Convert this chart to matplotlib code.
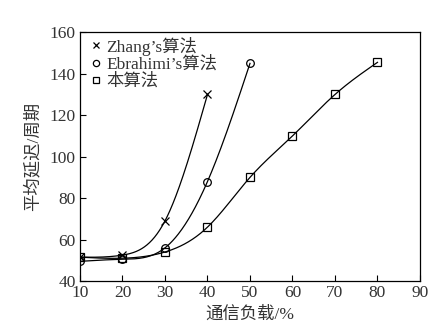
import numpy as np
import matplotlib
matplotlib.use("Agg")
import matplotlib.pyplot as plt
from matplotlib.lines import Line2D

plt.rcParams['font.family'] = ['Liberation Serif', 'Noto Sans CJK SC']

# Average delay (cycles) versus traffic load (%)
load_zhang = [10, 20, 30, 40]
delay_zhang = [51.5, 52.5, 69, 130]

load_ebrahimi = [10, 20, 30, 40, 50]
delay_ebrahimi = [49.5, 50.5, 56, 88, 145]

load_ours = [10, 20, 30, 40, 50, 60, 70, 80]
delay_ours = [51.5, 51, 54, 66, 90, 110, 130, 145.5]

series_labels = ["Zhang\u2019s算法", "Ebrahimi\u2019s算法", "本算法"]
x_ticks = [10, 20, 30, 40, 50, 60, 70, 80, 90]
y_ticks = [40, 60, 80, 100, 120, 140, 160]


def natural_spline(x, y, n=300):
    """Natural cubic spline curve through the given points."""
    x = np.asarray(x, float)
    y = np.asarray(y, float)
    k = len(x)
    h = np.diff(x)
    A = np.zeros((k, k))
    b = np.zeros(k)
    A[0, 0] = A[-1, -1] = 1.0
    for i in range(1, k - 1):
        A[i, i - 1] = h[i - 1]
        A[i, i] = 2 * (h[i - 1] + h[i])
        A[i, i + 1] = h[i]
        b[i] = 6 * ((y[i + 1] - y[i]) / h[i] - (y[i] - y[i - 1]) / h[i - 1])
    M = np.linalg.solve(A, b)
    xs = np.linspace(x[0], x[-1], n)
    idx = np.clip(np.searchsorted(x, xs) - 1, 0, k - 2)
    hi = h[idx]
    a = x[idx + 1] - xs
    c = xs - x[idx]
    ys = (M[idx] * a**3 / (6 * hi) + M[idx + 1] * c**3 / (6 * hi)
          + (y[idx] / hi - M[idx] * hi / 6) * a
          + (y[idx + 1] / hi - M[idx + 1] * hi / 6) * c)
    return xs, ys


fig = plt.figure(figsize=(4.34, 3.31), dpi=100)
ax = fig.add_axes([0.1843, 0.151, 0.7834, 0.7514])

text_color = '#333333'
line_kw = dict(color='black', lw=0.9)
mk_kw = dict(linestyle='none', color='black', markerfacecolor='none', markeredgewidth=0.9)

for lx, ly, mk in [(load_zhang, delay_zhang, 'x'),
                   (load_ebrahimi, delay_ebrahimi, 'o'),
                   (load_ours, delay_ours, 's')]:
    xs, ys = natural_spline(lx, ly)
    ax.plot(xs, ys, **line_kw)
    ax.plot(lx, ly, marker=mk, markersize=5.5, **mk_kw)

ax.set_xlim(10, 90)
ax.set_ylim(40, 160)
ax.set_xticks(x_ticks)
ax.set_yticks(y_ticks)
ax.tick_params(direction='in', length=4, width=0.8, labelsize=12.5,
               labelcolor=text_color, pad=3)
for s in ax.spines.values():
    s.set_linewidth(0.9)

ax.set_xlabel("通信负载/%", fontsize=12.5, color=text_color, labelpad=4)
ax.set_ylabel("平均延迟/周期", fontsize=12.5, color=text_color, labelpad=6)

handles = [Line2D([], [], marker='x', markersize=4.5, **mk_kw),
           Line2D([], [], marker='o', markersize=4.5, **mk_kw),
           Line2D([], [], marker='s', markersize=4.5, **mk_kw)]
leg = ax.legend(handles, series_labels, loc='upper left', frameon=False,
                fontsize=12.5, handlelength=0.6, handletextpad=0.3,
                labelspacing=0.05, borderaxespad=0.2,
                bbox_to_anchor=(0.0, 1.025))
for t in leg.get_texts():
    t.set_color(text_color)

fig.savefig("out.png", dpi=100)
